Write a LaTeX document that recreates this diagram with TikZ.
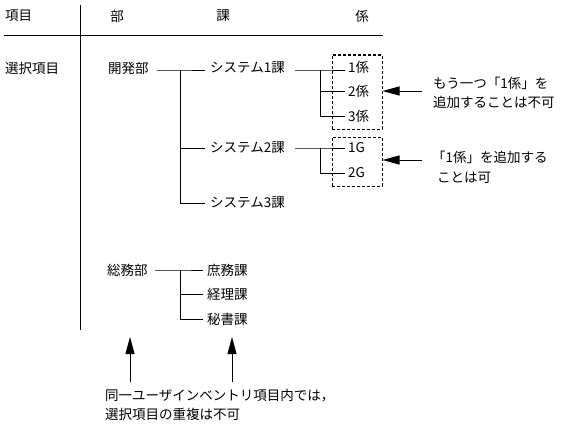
\documentclass[tikz,border=0pt]{standalone}
\usepackage{fontspec}
\newfontfamily\jp{Noto Sans CJK JP}
\usetikzlibrary{arrows.meta}
\begin{document}
\begin{tikzpicture}[x=1pt,y=-1pt,
  txt/.style={anchor=west,inner sep=0pt,font=\jp\fontsize{13.5pt}{15pt}\selectfont},
  ctxt/.style={inner sep=0pt,font=\jp\fontsize{13.5pt}{15pt}\selectfont},
  ln/.style={line width=1pt},
  dbox/.style={line width=1pt,dash pattern=on 3pt off 2pt},
  arr/.style={line width=1pt,-{Triangle[length=17pt,width=9pt]}}]
\useasboundingbox (0,0) rectangle (588,436);
% header
\node[txt] (hItem) at (5,16) {項目};
\node[ctxt] (hBu) at (117,16) {部};
\node[ctxt] (hKa) at (223,16) {課};
\node[ctxt] (hKk) at (362,16) {係};
\coordinate (hl1) at (4,36); \coordinate (hl2) at (383,36);
\coordinate (vl1) at (80,5); \coordinate (vl2) at (80,330);
\draw[ln] (hl1) -- (hl2);
\draw[ln] (vl1) -- (vl2);
% items
\node[txt] (sel) at (5,68) {選択項目};
\node[txt] (dev) at (108,68) {開発部};
\node[txt] (sys1) at (210,68) {システム1課};
\node[txt] (sys2) at (210,148) {システム2課};
\node[txt] (sys3) at (210,203) {システム3課};
\node[txt] (k1) at (348,67) {1係};
\node[txt] (k2) at (348,91) {2係};
\node[txt] (k3) at (348,116) {3係};
\node[txt] (g1) at (348,148) {1G};
\node[txt] (g2) at (348,173) {2G};
\node[txt] (gen) at (107,270) {総務部};
\node[txt] (sh) at (207,270) {庶務課};
\node[txt] (ke) at (207,294) {経理課};
\node[txt] (hi) at (207,319) {秘書課};
% tree lines
\coordinate (jA) at (180,70);
\draw[ln] (157,70) -- (jA) -- (205,70);
\draw[ln] (jA) |- (205,148);
\draw[ln] (jA) |- (205,203);
\coordinate (jB) at (320,70);
\draw[ln] (295,70) -- (jB) -- (345,70);
\draw[ln] (jB) |- (345,91);
\draw[ln] (jB) |- (345,116);
\coordinate (jC) at (320,148);
\draw[ln] (295,148) -- (jC) -- (345,148);
\draw[ln] (jC) |- (345,173);
\coordinate (jD) at (180,270);
\draw[ln] (155,270) -- (jD) -- (203,270);
\draw[ln] (jD) |- (203,294);
\draw[ln] (jD) |- (203,319);
% dashed boxes
\node[draw,dbox,minimum width=50pt,minimum height=74pt,inner sep=0pt] (box1) at (357,92) {};
\node[draw,dbox,minimum width=50pt,minimum height=49pt,inner sep=0pt] (box2) at (357,161.5) {};
% notes
\node[txt] (n1a) at (433,83) {もう一つ「1係」を};
\node[txt] (n1b) at (433,102) {追加することは不可};
\node[txt] (n2a) at (432,157) {「1係」を追加する};
\node[txt] (n2b) at (437,178) {ことは可};
\coordinate (a1) at (422,91);
\coordinate (a2) at (422,160);
\draw[arr] (a1) -- (box1.east |- a1);
\draw[arr] (a2) -- (box2.east |- a2);
% bottom
\node[txt] (b1) at (105,396) {同一ユーザインベントリ項目内では，};
\node[txt] (b2) at (105,414) {選択項目の重複は不可};
\coordinate (u1) at (130,382); \coordinate (u1t) at (130,337);
\coordinate (u2) at (232,382); \coordinate (u2t) at (232,337);
\draw[arr] (u1) -- (u1t);
\draw[arr] (u2) -- (u2t);
\end{tikzpicture}
\end{document}
